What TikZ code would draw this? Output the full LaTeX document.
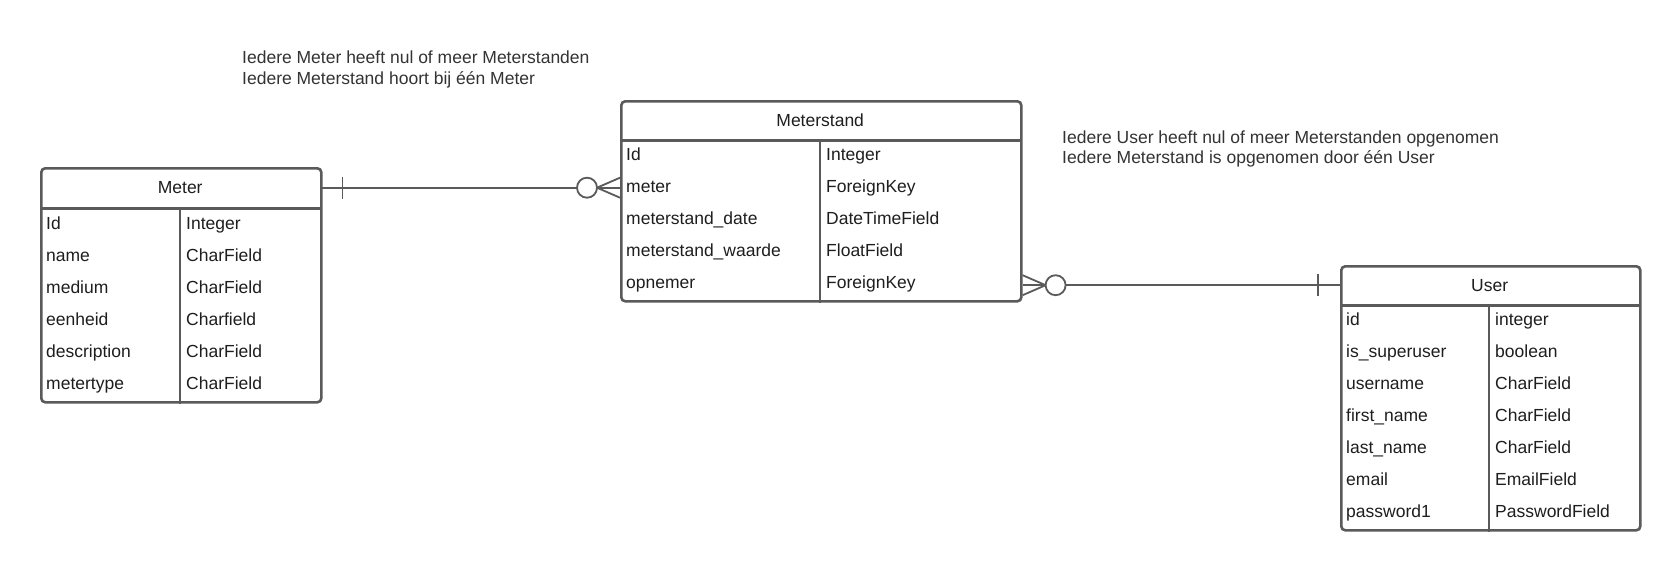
\documentclass[tikz,border=0pt]{standalone}
\usepackage{fontspec}
\setmainfont{Liberation Sans}
\usetikzlibrary{calc}
\definecolor{ln}{HTML}{5A5A5A}
\definecolor{tx}{HTML}{1E1E1E}
\definecolor{nt}{HTML}{333333}
\begin{document}
\begin{tikzpicture}[x=1pt,y=-1pt,
  tbox/.style={draw=ln,line width=2.6pt,rounded corners=4pt,anchor=north west,inner sep=0pt},
  hdr/.style={anchor=north west,inner sep=0pt,text=tx,font=\fontsize{17.5}{21}\selectfont},
  fld/.style={anchor=base west,inner sep=0pt,text=tx,font=\fontsize{17.5}{21}\selectfont},
  note/.style={anchor=west,inner sep=0pt,text=nt,align=left,font=\fontsize{17.5}{20.5}\selectfont},
  sep/.style={draw=ln,line width=2.6pt},
  conn/.style={draw=ln,line width=1.8pt}]
\useasboundingbox[fill=white] (0,0) rectangle (1680,570);

% ---------- Meter ----------
\node[tbox,minimum width=280,minimum height=234] (meter) at (40,167) {};
\node[hdr,minimum width=280,minimum height=41] (meterhead) at (40,167) {Meter};
\draw[sep] (meterhead.south west) -- (meterhead.south east);
\draw[sep] ([xshift=140pt]meterhead.south west) -- ([xshift=140pt]meter.south west);
\foreach \n/\a/\b [count=\i from 0] in {id/Id/Integer,name/name/CharField,medium/medium/CharField,eenheid/eenheid/Charfield,description/description/CharField,metertype/metertype/CharField}{
  \node[fld] (meter-\n) at (46,229+32*\i) {\a};
  \node[fld] (meter-\n-t) at (186,229+32*\i) {\b};
}

% ---------- Meterstand ----------
\node[tbox,minimum width=400,minimum height=200] (ms) at (620,100) {};
\node[hdr,minimum width=400,minimum height=40] (mshead) at (620,100) {Meterstand};
\draw[sep] (mshead.south west) -- (mshead.south east);
\draw[sep] ([xshift=200pt]mshead.south west) -- ([xshift=200pt]ms.south west);
\foreach \n/\a/\b [count=\i from 0] in {id/Id/Integer,meter/meter/ForeignKey,date/meterstand\_date/DateTimeField,waarde/meterstand\_waarde/FloatField,opnemer/opnemer/ForeignKey}{
  \node[fld] (ms-\n) at (626,160+32*\i) {\a};
  \node[fld] (ms-\n-t) at (826,160+32*\i) {\b};
}

% ---------- User ----------
\node[tbox,minimum width=299,minimum height=264] (user) at (1340,265) {};
\node[hdr,minimum width=299,minimum height=40] (userhead) at (1340,265) {User};
\draw[sep] (userhead.south west) -- (userhead.south east);
\draw[sep] ([xshift=149pt]userhead.south west) -- ([xshift=149pt]user.south west);
\foreach \n/\a/\b [count=\i from 0] in {id/id/integer,super/is\_superuser/boolean,username/username/CharField,first/first\_name/CharField,last/last\_name/CharField,email/email/EmailField,pw/password1/PasswordField}{
  \node[fld] (user-\n) at (1346,325+32*\i) {\a};
  \node[fld] (user-\n-t) at (1495,325+32*\i) {\b};
}

% ---------- Notes ----------
\node[note] (note1) at (242,69.5) {Iedere Meter heeft nul of meer Meterstanden\\Iedere Meterstand hoort bij één Meter};
\node[note] (note2) at (1062,149) {Iedere User heeft nul of meer Meterstanden opgenomen\\Iedere Meterstand is opgenomen door één User};

% ---------- Meter -- Meterstand ----------
\coordinate (e1) at (ms.west |- meterhead.east);
\draw[conn] (meterhead.east) -- ([xshift=-43pt]e1);
\draw[conn] ([xshift=22pt]meterhead.east) ++(0,-11) -- ++(0,22);
\draw[conn] ([xshift=-33pt]e1) circle[radius=10pt];
\draw[conn] ([xshift=-23pt]e1) -- ([yshift=10pt]e1);
\draw[conn] ([xshift=-23pt]e1) -- (e1);
\draw[conn] ([xshift=-23pt]e1) -- ([yshift=-10pt]e1);

% ---------- Meterstand -- User ----------
\coordinate (e2) at (ms.east |- userhead.west);
\draw[conn] ([xshift=43pt]e2) -- (userhead.west);
\draw[conn] ([xshift=-22pt]userhead.west) ++(0,-11) -- ++(0,22);
\draw[conn] ([xshift=33pt]e2) circle[radius=10pt];
\draw[conn] ([xshift=23pt]e2) -- ([yshift=10pt]e2);
\draw[conn] ([xshift=23pt]e2) -- (e2);
\draw[conn] ([xshift=23pt]e2) -- ([yshift=-10pt]e2);
\end{tikzpicture}
\end{document}
